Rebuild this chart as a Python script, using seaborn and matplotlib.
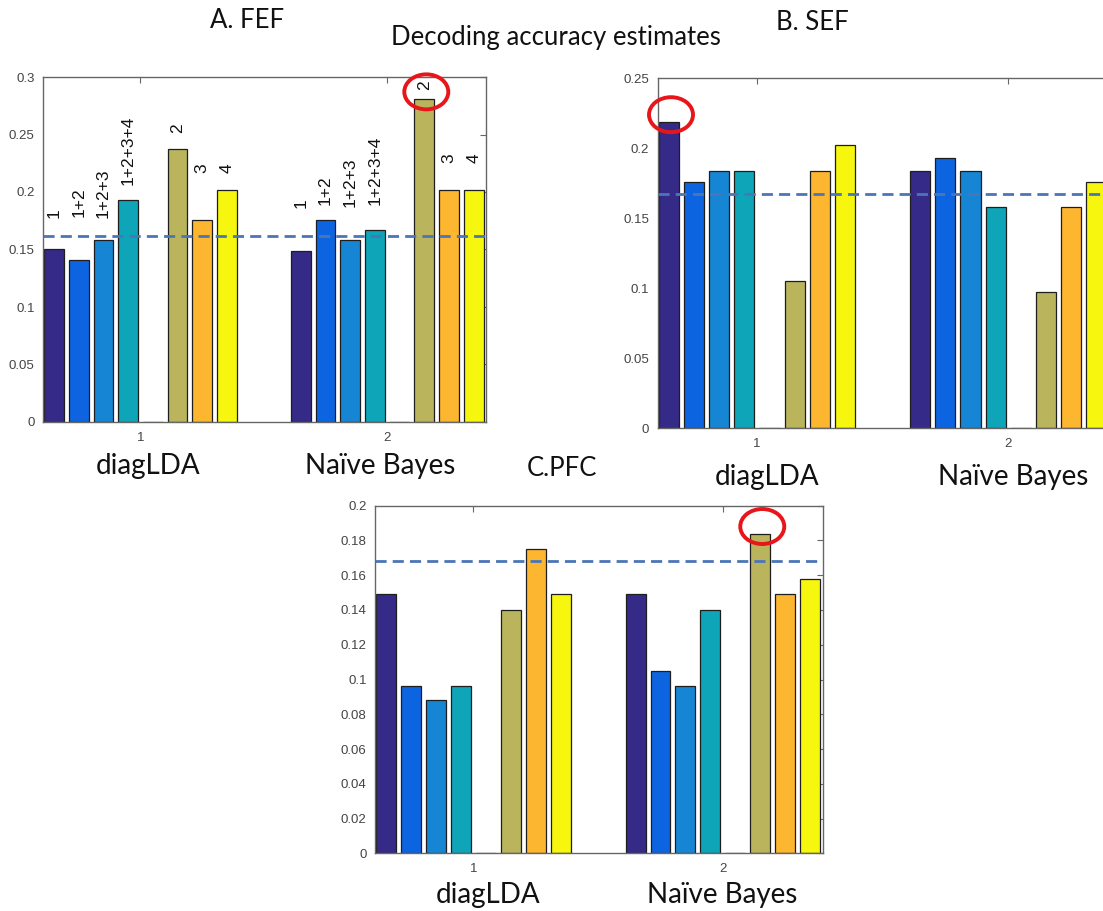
import matplotlib
matplotlib.use("Agg")
import matplotlib.pyplot as plt
import matplotlib.transforms as mtransforms
from matplotlib.patches import Ellipse
import seaborn as sns
import pandas as pd

# classifiers (x groups) and feature sets (hue); "none" is the empty slot
groups = ["1", "2"]
group_names = ["diagLDA", "Naïve Bayes"]
features = ["1", "1+2", "1+2+3", "1+2+3+4", "none", "2", "3", "4"]
colors = ["#352a87", "#0d64e0", "#1585d4", "#0fa5b8", "#38b98a",
          "#bab55d", "#fcb630", "#f6f60f"]

# decoding accuracy per area: [diagLDA values, Naive Bayes values]
fef = [[0.150, 0.141, 0.158, 0.193, 0.0, 0.237, 0.176, 0.202],
       [0.149, 0.176, 0.158, 0.167, 0.0, 0.281, 0.202, 0.202]]
sef = [[0.219, 0.176, 0.184, 0.184, 0.0, 0.105, 0.184, 0.202],
       [0.184, 0.193, 0.184, 0.158, 0.0, 0.097, 0.158, 0.176]]
pfc = [[0.149, 0.096, 0.088, 0.096, 0.0, 0.140, 0.175, 0.149],
       [0.149, 0.105, 0.096, 0.140, 0.0, 0.184, 0.149, 0.158]]
chance = [0.162, 0.167, 0.168]
ymax = [0.3, 0.25, 0.2]
ystep = [0.05, 0.05, 0.02]

# hand-placed feature labels over the FEF bars (label base heights)
fef_label_y = [[0.177, 0.178, 0.177, 0.206, None, 0.251, 0.2165, 0.2165],
               [0.186, 0.189, 0.187, 0.189, None, 0.289, 0.225, 0.225]]

# best result circled in each area: (group index, feature index)
best = [(1, 5), (0, 0), (1, 5)]

W, H = 1103, 911
DPI = 100
fig = plt.figure(figsize=(W / DPI, H / DPI), dpi=DPI)
sns.set_style("white")
plt.rcParams["font.family"] = ["Liberation Sans", "DejaVu Sans"]

# axes boxes in pixels: left, top, right, bottom
boxes = [(43, 77, 486, 422), (657.7, 78.3, 1108.7, 428.3), (375, 505.7, 822.6, 853.3)]
# name label offsets in px: dx group 1, dx group 2, dy below axis
name_off = [(8, -7, 44), (10, 5, 49), (15, -1, 42)]

datasets = [fef, sef, pfc]

for k, data in enumerate(datasets):
    l, t, r, b = boxes[k]
    ax = fig.add_axes([l / W, 1 - b / H, (r - l) / W, (b - t) / H])

    df = pd.DataFrame({
        "classifier": [g for g in groups for _ in features],
        "feature": features * len(groups),
        "acc": data[0] + data[1],
    })
    sns.barplot(data=df, x="classifier", y="acc", hue="feature",
                order=groups, hue_order=features, palette=colors,
                saturation=1, gap=0.2, edgecolor="#1e1e1e", linewidth=0.9,
                errorbar=None, legend=False, ax=ax)

    ax.axhline(chance[k], color="#4a76b8", lw=2, ls=(0, (4, 2.2)), zorder=5)

    ax.set_xlim(-0.395, 1.40)
    ax.set_ylim(0, ymax[k])
    n = int(round(ymax[k] / ystep[k]))
    ticks = [round(i * ystep[k], 3) for i in range(n + 1)]
    ax.set_yticks(ticks)
    ax.set_yticklabels([f"{v:g}" for v in ticks])
    ax.set_xlabel("")
    ax.set_ylabel("")
    ax.tick_params(direction="in", length=4, width=0.8, colors="#666666",
                   labelcolor="#444444", labelsize=9.5, top=True, right=True)
    ax.tick_params(axis="y", pad=6)
    ax.tick_params(axis="x", pad=7)
    for s in ax.spines.values():
        s.set_visible(True)
        s.set_color("#666666")
        s.set_linewidth(1.0)

    # classifier names under the tick labels
    dx1, dx2, dy = name_off[k]
    for gi, (name, dx) in enumerate(zip(group_names, (dx1, dx2))):
        ax.annotate(name, xy=(gi, 0), xycoords=("data", "axes fraction"),
                    xytext=(dx * 0.72, -dy * 0.72), textcoords="offset points",
                    ha="center", va="center", fontsize=20, family=["Lato", "DejaVu Sans"],
                    color="#111111")

    # feature labels on FEF panel
    if k == 0:
        for gi in range(len(groups)):
            for fi, feat in enumerate(features):
                y = fef_label_y[gi][fi]
                if y is None:
                    continue
                bar = ax.containers[fi][gi]
                xc = bar.get_x() + bar.get_width() / 2
                ax.text(xc, y, feat, rotation=90, ha="center", va="bottom",
                        fontsize=12.5, color="#111111")

    # red circle on the best bar
    gi, fi = best[k]
    bar = ax.containers[fi][gi]
    xc = bar.get_x() + bar.get_width() / 2
    yc = bar.get_height()
    tr = fig.dpi_scale_trans + mtransforms.ScaledTranslation(xc, yc, ax.transData)
    ell = Ellipse((0.02, 0.07), 0.44, 0.35, fill=False, edgecolor="#e8161b",
                  lw=2.8, transform=tr, clip_on=False, zorder=6)
    ax.add_patch(ell)

title_font = ["Lato", "DejaVu Sans"]
fig.text(247 / W, 1 - 21 / H, "A. FEF", ha="center", va="center", fontsize=18.5,
         family=title_font, color="#111111")
fig.text(812 / W, 1 - 22 / H, "B. SEF", ha="center", va="center", fontsize=18.5,
         family=title_font, color="#111111")
fig.text(556 / W, 1 - 38 / H, "Decoding accuracy estimates", ha="center", va="center",
         fontsize=18.5, family=title_font, color="#111111")
fig.text(562 / W, 1 - 468 / H, "C.PFC", ha="center", va="center", fontsize=18.5,
         family=title_font, color="#111111")

fig.savefig("out.png", dpi=DPI, facecolor="white")
